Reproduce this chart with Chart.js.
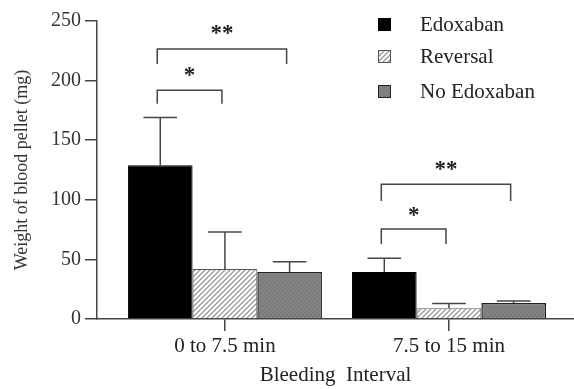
<!DOCTYPE html>
<html><head><meta charset="utf-8">
<script src="https://cdn.jsdelivr.net/npm/chart.js@4/dist/chart.umd.min.js"></script>
<style>html,body{margin:0;padding:0;background:#fff;}#wrap{width:574px;height:389px;position:relative;}</style>
</head><body><div id="wrap"><canvas id="c"></canvas></div>
<script>
// ---- data ----
const categories = ['0 to 7.5 min', '7.5 to 15 min'];
const seriesNames = ['Edoxaban', 'Reversal', 'No Edoxaban'];
const edoxaban = [129, 39.5];
const edoxabanErr = [169, 51];
const reversal = [42, 9];
const reversalErr = [73, 13];
const noEdoxaban = [39.5, 13.5];
const noEdoxabanErr = [48, 15];
const yTicks = [0, 50, 100, 150, 200, 250];
// significance brackets
const sigGroup = [0, 0, 1, 1];
const sigFrom = [0, 0, 0, 0];
const sigTo = [1, 2, 1, 2];
const sigTop = [192, 226.5, 75.5, 113];
const sigLeg = [180.5, 214, 63, 99];
const sigText = ['*', '**', '*', '**'];
const sigTextValue = [208, 243, 91, 129];

const FONT = '"Liberation Serif", "Times New Roman", serif';

function hatchPattern() {
  const s = 5, c = document.createElement('canvas');
  c.width = s; c.height = s;
  const g = c.getContext('2d');
  g.fillStyle = '#ffffff'; g.fillRect(0, 0, s, s);
  g.strokeStyle = '#9a9a9a'; g.lineWidth = 1.4;
  g.beginPath();
  g.moveTo(-1, s + 1); g.lineTo(s + 1, -1);
  g.moveTo(-1, 1); g.lineTo(1, -1);
  g.moveTo(s - 1, s + 1); g.lineTo(s + 1, s - 1);
  g.stroke();
  return g.createPattern(c, 'repeat');
}
function grayPattern() {
  const s = 4, c = document.createElement('canvas');
  c.width = s; c.height = s;
  const g = c.getContext('2d');
  g.fillStyle = '#808080'; g.fillRect(0, 0, s, s);
  g.fillStyle = '#6e6e6e'; g.fillRect(0, 0, 1, 1); g.fillRect(2, 2, 1, 1);
  g.fillStyle = '#8c8c8c'; g.fillRect(2, 0, 1, 1); g.fillRect(0, 2, 1, 1);
  return g.createPattern(c, 'repeat');
}

const toXY = arr => arr.map((v, i) => ({ x: i, y: v }));
const errors = [edoxabanErr, reversalErr, noEdoxabanErr];

const overlay = {
  id: 'overlay',
  afterDatasetsDraw(chart) {
    const ctx = chart.ctx, ys = chart.scales.y;
    ctx.save();
    // error bars
    ctx.strokeStyle = '#454545'; ctx.lineWidth = 1.5;
    errors.forEach((errArr, d) => {
      const meta = chart.getDatasetMeta(d);
      meta.data.forEach((el, i) => {
        const yTop = ys.getPixelForValue(errArr[i]);
        const half = el.width * 0.26;
        ctx.beginPath();
        ctx.moveTo(el.x, el.y); ctx.lineTo(el.x, yTop);
        ctx.moveTo(el.x - half, yTop); ctx.lineTo(el.x + half, yTop);
        ctx.stroke();
      });
    });
    // significance brackets
    ctx.strokeStyle = '#444'; ctx.lineWidth = 1.5;
    ctx.fillStyle = '#222';
    ctx.font = 'bold 23px ' + FONT;
    ctx.textAlign = 'center'; ctx.textBaseline = 'alphabetic';
    sigGroup.forEach((g, k) => {
      const x1 = chart.getDatasetMeta(sigFrom[k]).data[g].x - 3;
      const x2 = chart.getDatasetMeta(sigTo[k]).data[g].x - 3;
      const yt = ys.getPixelForValue(sigTop[k]);
      const yl = ys.getPixelForValue(sigLeg[k]);
      ctx.beginPath();
      ctx.moveTo(x1, yl); ctx.lineTo(x1, yt); ctx.lineTo(x2, yt); ctx.lineTo(x2, yl);
      ctx.stroke();
      const yc = ys.getPixelForValue(sigTextValue[k]);
      ctx.fillText(sigText[k], (x1 + x2) / 2, yc + 11);
    });
    // legend
    const lx = 384.5, ly = [24.5, 56.5, 91.5], sq = 12;
    ctx.font = '21px ' + FONT;
    ctx.textAlign = 'left'; ctx.textBaseline = 'middle';
    chart.data.datasets.forEach((ds, d) => {
      ctx.fillStyle = ds.backgroundColor;
      ctx.fillRect(lx - sq / 2, ly[d] - sq / 2, sq, sq);
      ctx.strokeStyle = ds.borderColor; ctx.lineWidth = 1;
      ctx.strokeRect(lx - sq / 2, ly[d] - sq / 2, sq, sq);
      ctx.fillStyle = '#222';
      ctx.fillText(ds.label, 420, ly[d] + 1);
    });
    ctx.restore();
  }
};

new Chart(document.getElementById('c'), {
  type: 'bar',
  data: {
    datasets: [
      { label: seriesNames[0], data: toXY(edoxaban), backgroundColor: '#000000', borderColor: '#000000', borderWidth: 1 },
      { label: seriesNames[1], data: toXY(reversal), backgroundColor: hatchPattern(), borderColor: '#555555', borderWidth: 1 },
      { label: seriesNames[2], data: toXY(noEdoxaban), backgroundColor: grayPattern(), borderColor: '#222222', borderWidth: 1.5 }
    ]
  },
  options: {
    responsive: true,
    maintainAspectRatio: false,
    animation: false,
    devicePixelRatio: 1,
    layout: { padding: { top: 21, right: 0, bottom: 0, left: 0 } },
    datasets: { bar: { categoryPercentage: 0.866, barPercentage: 1 } },
    plugins: { legend: { display: false }, tooltip: { enabled: false } },
    scales: {
      x: {
        type: 'linear',
        offset: false,
        min: -0.571, max: 1.558,
        afterBuildTicks: s => { s.ticks = categories.map((c, i) => ({ value: i })); },
        afterFit: s => { s.height = 70; },
        ticks: { callback: v => categories[v], color: '#222', font: { family: FONT, size: 21 }, padding: 3, maxRotation: 0, autoSkip: false },
        grid: { offset: false, drawOnChartArea: false, tickLength: 12, color: '#444', lineWidth: 1.5 },
        border: { color: '#444', width: 1.5 },
        title: { display: true, text: 'Bleeding  Interval', color: '#222', font: { family: FONT, size: 21 }, padding: { top: 0, bottom: 1 } }
      },
      y: {
        min: 0, max: 250,
        afterBuildTicks: s => { s.ticks = yTicks.map(v => ({ value: v })); },
        afterFit: s => { s.width = 97; },
        ticks: { color: '#333', font: { family: FONT, size: 20 }, padding: 4 },
        grid: { drawOnChartArea: false, tickLength: 12, color: '#444', lineWidth: 1.5 },
        border: { color: '#444', width: 1.5 },
        title: { display: true, text: 'Weight of blood pellet (mg)', color: '#333', font: { family: FONT, size: 18 }, padding: { top: 11, bottom: 0 } }
      }
    }
  },
  plugins: [overlay]
});
</script></body></html>
